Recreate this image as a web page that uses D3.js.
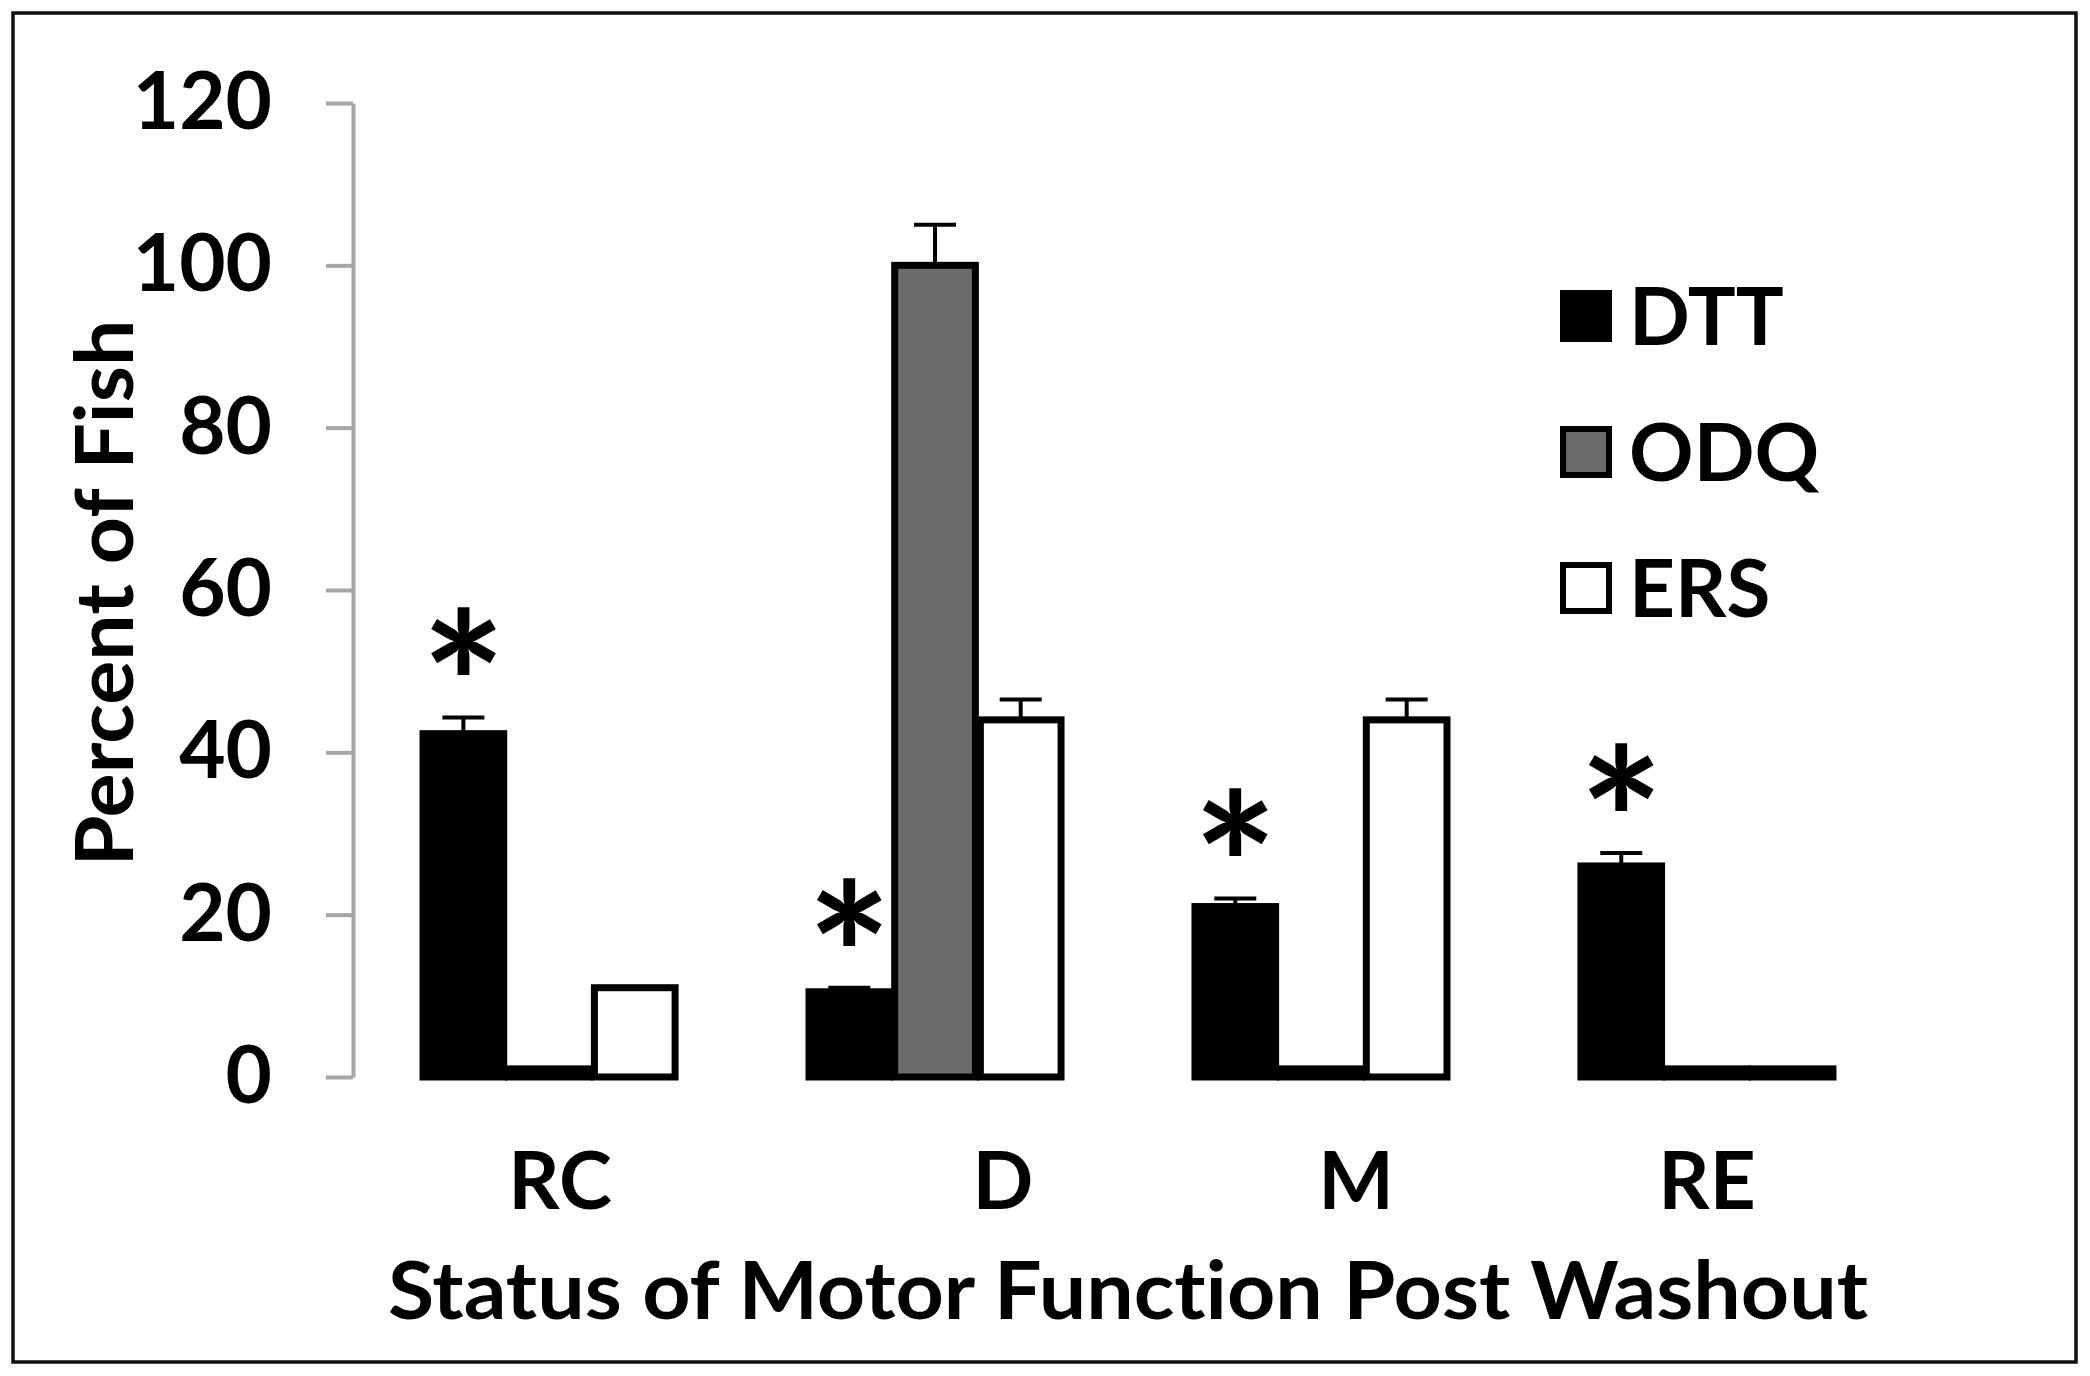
<!DOCTYPE html>
<html>
<head>
<meta charset="utf-8">
<script src="https://cdn.jsdelivr.net/npm/d3@7"></script>
<style>
  html, body { margin: 0; padding: 0; background: #fff; }
  svg text { font-family: Lato, "Open Sans", sans-serif; font-weight: bold; fill: #000; font-variant-ligatures: none; }
</style>
</head>
<body>
<svg id="chart" width="2090" height="1376"></svg>
<script>
// ---- data ----
const categories = ["RC", "D", "M", "RE"];
const series = ["DTT", "ODQ", "ERS"];
const dttValues = [42.3, 10.5, 21, 26];
const odqValues = [1, 100, 1, 1];
const ersValues = [11, 44, 44, 1];
const dttErrors = [2, 0.5, 1, 1.6];
const odqErrors = [0, 5, 0, 0];
const ersErrors = [0, 2.5, 2.5, 0];
const dttSignificant = [true, true, true, true];
const yTicks = [0, 20, 40, 60, 80, 100, 120];
const yTitle = "Percent of Fish";
const xTitle = "Status of Motor Function Post Washout";

// ---- build table ----
const valuesBySeries = { DTT: dttValues, ODQ: odqValues, ERS: ersValues };
const errorsBySeries = { DTT: dttErrors, ODQ: odqErrors, ERS: ersErrors };
const rows = [];
categories.forEach((c, i) => {
  series.forEach(s => rows.push({ cat: c, ser: s, value: valuesBySeries[s][i], err: errorsBySeries[s][i] }));
});

// ---- styling ----
const fills = { DTT: "#000000", ODQ: "#6b6b6b", ERS: "#ffffff" };
const labelShift = { RC: 11, D: 68, M: 35, RE: 0 };

const svg = d3.select("#chart");

// frame
svg.append("rect").attr("x", 13).attr("y", 13).attr("width", 2063).attr("height", 1349)
  .attr("fill", "#fff").attr("stroke", "#111").attr("stroke-width", 3.5);

const y = d3.scaleLinear().domain([0, 120]).range([1077, 103]);
const x0 = d3.scaleBand().domain(categories).range([353, 1903]).paddingInner(0.334).paddingOuter(0.175);
const x1 = d3.scaleBand().domain(series).range([0, x0.bandwidth()]).padding(0);

// y axis
const yAxis = d3.axisLeft(y).tickValues(yTicks).tickSize(27).tickPadding(54).tickSizeOuter(0);
const gy = svg.append("g").attr("transform", "translate(353,0)").call(yAxis);
gy.select(".domain").attr("stroke", "#a6a6a6").attr("stroke-width", 4);
gy.selectAll(".tick line").attr("stroke", "#a6a6a6").attr("stroke-width", 4);
gy.selectAll(".tick text").attr("font-size", 80).attr("font-family", "Lato, sans-serif")
  .attr("font-weight", "bold").attr("fill", "#000");

// bars
const bw = 5;
svg.append("g").selectAll("rect").data(rows).join("rect")
  .attr("x", d => x0(d.cat) + x1(d.ser) + bw / 2)
  .attr("width", x1.bandwidth() - bw)
  .attr("y", d => y(d.value))
  .attr("height", d => y(0) - y(d.value))
  .attr("fill", d => d.value < 2 ? "#000" : fills[d.ser])
  .attr("stroke", "#000").attr("stroke-width", 7);

// error bars
const eb = rows.filter(d => d.err > 0);
const ebG = svg.append("g").attr("stroke", "#000").attr("stroke-width", 4);
ebG.selectAll("line.v").data(eb).join("line").attr("class", "v")
  .attr("x1", d => x0(d.cat) + x1(d.ser) + x1.bandwidth() / 2)
  .attr("x2", d => x0(d.cat) + x1(d.ser) + x1.bandwidth() / 2)
  .attr("y1", d => y(d.value)).attr("y2", d => y(d.value + d.err));
ebG.selectAll("line.c").data(eb).join("line").attr("class", "c")
  .attr("x1", d => x0(d.cat) + x1(d.ser) + x1.bandwidth() / 2 - 21)
  .attr("x2", d => x0(d.cat) + x1(d.ser) + x1.bandwidth() / 2 + 21)
  .attr("y1", d => y(d.value + d.err)).attr("y2", d => y(d.value + d.err));

// significance asterisks
const starSize = 200;
const stars = categories.map((c, i) => ({ cat: c, top: dttValues[i] + dttErrors[i], sig: dttSignificant[i] }))
  .filter(d => d.sig);
svg.append("g").selectAll("text").data(stars).join("text")
  .attr("x", d => x0(d.cat) + x1("DTT") + x1.bandwidth() / 2)
  .attr("y", d => y(d.top) - 62 + 0.52 * starSize)
  .attr("text-anchor", "middle")
  .attr("font-size", starSize)
  .attr("font-family", "Lato, sans-serif")
  .attr("font-weight", "bold")
  .text("*");

// x category labels
svg.append("g").selectAll("text").data(categories).join("text")
  .attr("x", d => x0(d) + x0.bandwidth() / 2 + labelShift[d])
  .attr("y", 1180)
  .attr("dy", "0.36em")
  .attr("text-anchor", "middle")
  .attr("font-size", 80)
  .text(d => d);

// axis titles
svg.append("text")
  .attr("x", 1128).attr("y", 1290).attr("dy", "0.36em")
  .attr("text-anchor", "middle").attr("font-size", 80)
  .attr("textLength", 1480).attr("lengthAdjust", "spacingAndGlyphs")
  .text(xTitle);

svg.append("text")
  .attr("transform", "translate(104,593) rotate(-90)")
  .attr("dy", "0.36em")
  .attr("text-anchor", "middle").attr("font-size", 80)
  .attr("textLength", 547).attr("lengthAdjust", "spacingAndGlyphs")
  .text(yTitle);

// legend
const lg = svg.append("g").selectAll("g").data(series).join("g")
  .attr("transform", (d, i) => `translate(1560, ${316 + i * 136})`);
lg.append("rect").attr("x", 3).attr("y", -23).attr("width", 46).attr("height", 46)
  .attr("fill", d => fills[d]).attr("stroke", "#000").attr("stroke-width", 6);
lg.append("text").attr("x", 69).attr("dy", "0.36em").attr("font-size", 80).text(d => d);
</script>
</body>
</html>
